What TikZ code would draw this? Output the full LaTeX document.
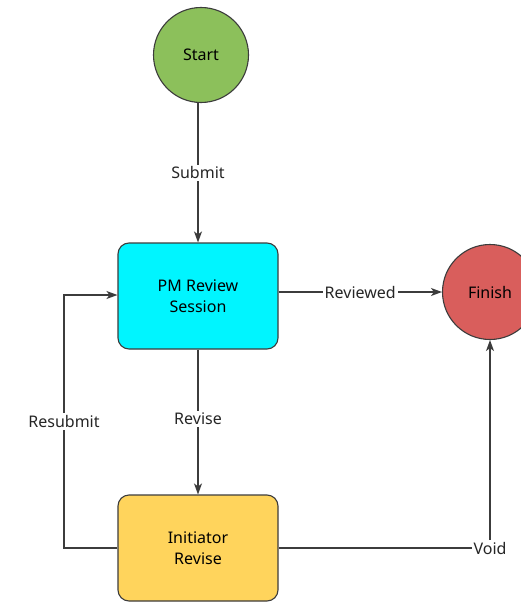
\documentclass[tikz,border=0pt]{standalone}
\usepackage{fontspec}
\setmainfont{Noto Sans}
\usetikzlibrary{arrows.meta,positioning}
\definecolor{startgreen}{HTML}{8CC05B}
\definecolor{finishred}{HTML}{D95E5C}
\definecolor{reviewcyan}{HTML}{00F5FF}
\definecolor{reviseyellow}{HTML}{FFD45C}
\definecolor{edgegray}{HTML}{3C3C3C}
\tikzset{
  statecircle/.style={circle, draw=edgegray, line width=1.1pt, minimum size=95pt, inner sep=0pt, font=\fontsize{16}{19}\selectfont},
  taskbox/.style={rectangle, rounded corners=11pt, draw=edgegray, line width=1.1pt, minimum width=160pt, minimum height=106pt, align=center, font=\fontsize{16}{21}\selectfont},
  flow/.style={draw=edgegray, line width=1.3pt, -{Stealth[length=11pt,width=8pt,inset=3pt]}},
  flowlabel/.style={fill=white, inner sep=2pt, font=\fontsize{16}{19}\selectfont, text=black!85}
}
\begin{document}
\begin{tikzpicture}[x=1pt,y=-1pt]
  \useasboundingbox (0,0) rectangle (521,602);
  \clip (0,0) rectangle (521,602);
  \fill[white] (0,0) rectangle (521,602);

  % states and tasks
  \node[statecircle, fill=startgreen] (start) at (201,55) {Start};
  \node[taskbox, fill=reviewcyan] (review) at (198,296) {PM Review\\Session};
  \node[statecircle, fill=finishred] (finish) at (490,292) {Finish};
  \node[taskbox, fill=reviseyellow] (revise) at (198,548) {Initiator\\Revise};

  % corner points of the routed connectors
  \coordinate (voidcorner) at (490,548);
  \coordinate (resubleft) at (64,548);
  \coordinate (resubtop) at (64,295);

  % connectors
  \draw[flow] (review.north |- start.south) -- node[flowlabel, pos=0.5] {Submit} (review.north);
  \draw[flow] (review.east |- finish.west) -- node[flowlabel, pos=0.5] {Reviewed} (finish.west);
  \draw[flow] (review.south) -- node[flowlabel, pos=0.48] {Revise} (revise.north);
  \draw[flow] (revise.east) -- (voidcorner) node[flowlabel] {Void} -- (finish.south);
  \draw[flow] (revise.west) -- (resubleft) -- node[flowlabel, pos=0.5] {Resubmit} (resubtop) -- (review.west |- resubtop);
\end{tikzpicture}
\end{document}
